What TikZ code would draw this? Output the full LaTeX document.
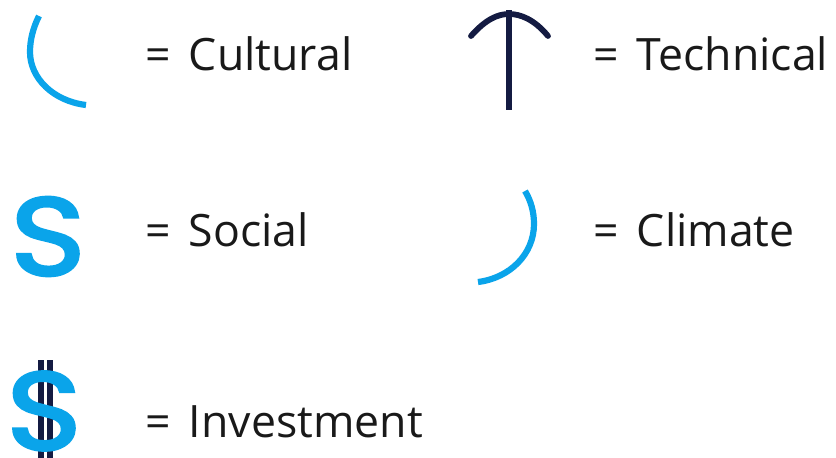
\documentclass[tikz,border=0pt]{standalone}
\usepackage{fontspec}
\setmainfont{Open Sans}
\newfontfamily\glyphfont[FakeBold=3,FakeStretch=1.16]{Poppins}
\definecolor{skyb}{HTML}{0AA4EA}
\definecolor{navyd}{HTML}{141B42}
\tikzset{
  x=1pt,y=-1pt,
  lab/.style={anchor=base west,inner sep=0pt,font=\fontsize{44.6}{54}\selectfont,text=black!90},
  glyph/.style={inner sep=0pt,text=skyb,font=\fontsize{110}{120}\glyphfont},
  arcb/.style={draw=skyb,line width=6.2pt},
  navy/.style={draw=navyd,line width=5.8pt}
}
\newcommand{\eqs}[1]{=\hspace{0.15em} #1}
\begin{document}
\begin{tikzpicture}
\useasboundingbox (0,0) rectangle (836,458);
\fill[white] (0,0) rectangle (836,458);
% symbols
\draw[arcb] (86,105) .. controls (53,101) and (30,78) .. (30,52) .. controls (30,40) and (33,28) .. (39,16);
\draw[navy,line cap=round] (471,36) .. controls (486,19) and (498,14) .. (509,14) .. controls (520,14) and (534,19) .. (548,36);
\draw[navy] (509,10) -- (509,110);
\node[glyph] (s) at (48,236.5) {S};
\draw[arcb] (525,191) .. controls (531,201) and (534,212) .. (534,224) .. controls (534,254) and (510,278) .. (478,282);
\draw[draw=navyd,line width=6pt] (40.5,360) -- (40.5,458);
\draw[draw=navyd,line width=6.5pt] (50,360) -- (50,458);
\node[glyph] (d) at (44,411) {S};
% labels
\node[lab] (l1) at (145,70) {\eqs{Cultural}};
\node[lab] (l2) at (593,70) {\eqs{Technical}};
\node[lab] (l3) at (145,246) {\eqs{Social}};
\node[lab] (l4) at (593,246) {\eqs{Climate}};
\node[lab] (l5) at (145,437) {\eqs{Investment}};
\end{tikzpicture}
\end{document}
